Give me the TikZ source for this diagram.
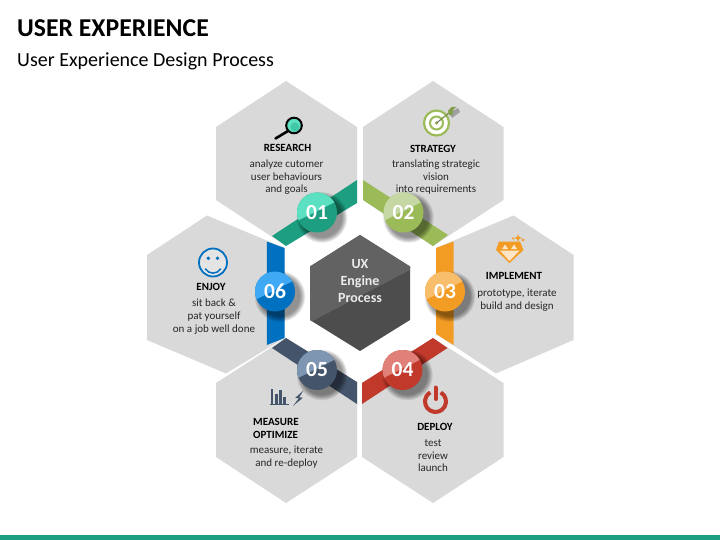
\documentclass[tikz,border=0pt]{standalone}
\usepackage{fontspec}
\setmainfont{Carlito}
\definecolor{hexgray}{HTML}{D9D9D9}
\definecolor{txt}{HTML}{262626}
\definecolor{teald}{HTML}{1D9E80}\definecolor{teall}{HTML}{5CE0C2}
\definecolor{greend}{HTML}{9BBB59}\definecolor{greenl}{HTML}{C5D8A4}
\definecolor{oranged}{HTML}{F39C24}\definecolor{orangel}{HTML}{F8BE6C}
\definecolor{redd}{HTML}{C0392B}\definecolor{redl}{HTML}{E08078}
\definecolor{slated}{HTML}{44546A}\definecolor{slatel}{HTML}{7F96B2}
\definecolor{blued}{HTML}{0070C0}\definecolor{bluel}{HTML}{3FA9F5}
\definecolor{coredark}{HTML}{4D4D4D}\definecolor{corelight}{HTML}{626262}
\definecolor{gemlight}{HTML}{FDE6C8}
\newcommand{\uxbadge}[6]{%
  \foreach \rr in {25.5,25,24.5,24,23.5,23,22.5,22,21.5,21,20.5,20}{
    \fill[black,opacity=0.045] (#1+5,#2+5) circle[radius=\rr pt];}
  \fill[#3] (#1,#2) circle[radius=20pt];
  \begin{scope}
    \clip (#1,#2) circle[radius=20pt];
    \fill[#4] (#1-21,#2+9) -- (#1+21,#2-12) -- (#1+21,#2-22) -- (#1-21,#2-22) -- cycle;
  \end{scope}
  \node[numtxt] (#6) at (#1,#2) {#5};
}
\tikzset{
  x=1pt,y=-1pt,
  hexa/.style={fill=hexgray,draw=none},
  head/.style={font=\fontsize{11}{13}\selectfont\bfseries,text=black,inner sep=0pt,anchor=base,yshift=-4.8pt},
  body/.style={font=\fontsize{11}{13}\selectfont,text=txt,inner sep=0pt,anchor=base,yshift=-4.2pt},
  numtxt/.style={font=\fontsize{21.5}{24}\selectfont\bfseries,text=white,inner sep=0pt},
  coretxt/.style={font=\fontsize{14}{16}\selectfont\bfseries,text=white!92!black,inner sep=0pt,anchor=base},
}
\begin{document}
\begin{tikzpicture}
\useasboundingbox (0,0) rectangle (720,540);
\fill[white] (0,0) rectangle (720,540);
% title
\node[anchor=base west,inner sep=0pt,font=\fontsize{25.7}{30}\selectfont\bfseries,text=black] (title) at (17,37) {USER EXPERIENCE};
\node[anchor=base west,inner sep=0pt,font=\fontsize{20}{24}\selectfont,text=black] (subtitle) at (17,66.5) {User Experience Design Process};
% bottom bar
\fill[teald] (0,534.5) rectangle (720,540);
% hexagons
\fill[hexa] (286,81) -- (357,127) -- (357,200) -- (286,246) -- (216,200) -- (216,127) -- cycle;
\fill[hexa] (433,81) -- (503.5,127) -- (503.5,200) -- (433,246) -- (363,200) -- (363,127) -- cycle;
\fill[hexa] (513.5,215.5) -- (573.5,255) -- (573.5,340) -- (496,373.5) -- (436,334) -- (436,248) -- cycle;
\fill[hexa] (207,215.5) -- (284.5,248) -- (284.5,338) -- (226,373.5) -- (147,340) -- (147,255) -- cycle;
\fill[hexa] (286,338) -- (357,382) -- (357,457) -- (286,503) -- (216,457) -- (216,383) -- cycle;
\fill[hexa] (433,338) -- (503.5,383) -- (503.5,457) -- (433,503) -- (362,457) -- (362,383) -- cycle;
% bands
\fill[teald] (357,180) -- (357,203) -- (286,246) -- (272,236) -- cycle;
\fill[greend] (363,180) -- (448,235) -- (433,246) -- (363,200) -- cycle;
\fill[oranged] (453.5,241.5) -- (453.5,345) -- (436,334) -- (436,248) -- cycle;
\fill[redd] (362,383) -- (433,338) -- (447.5,348) -- (362,404) -- cycle;
\fill[slated] (272,348) -- (286,338) -- (357,382) -- (357,404) -- cycle;
\fill[blued] (266.8,241.5) -- (284.5,248) -- (284.5,338) -- (266.8,345) -- cycle;
% centre hexagon
\fill[coredark] (360,235) -- (410,266.5) -- (410,320) -- (360,351) -- (310,320) -- (310,266.5) -- cycle;
\fill[corelight] (360,235) -- (410,266.5) -- (410,270) -- (312,321.3) -- (310,320) -- (310,266.5) -- cycle;
\node[coretxt] (ux) at (360,268.3) {UX};
\node[coretxt] (engine) at (360,285.5) {Engine};
\node[coretxt] (process) at (360,302) {Process};
% badges
\uxbadge{317}{212.5}{teald}{teall}{01}{b1}
\uxbadge{403.5}{212.5}{greend}{greenl}{02}{b2}
\uxbadge{445}{291.5}{oranged}{orangel}{03}{b3}
\uxbadge{402.5}{370}{redd}{redl}{04}{b4}
\uxbadge{317}{370}{slated}{slatel}{05}{b5}
\uxbadge{275}{291.5}{blued}{bluel}{06}{b6}
% research
\draw[black,line width=2.6pt,line cap=round] (288,131) -- (275.5,138.5);
\fill[teall] (294,125.5) circle[radius=7.5pt];
\fill[teall!60!teald] (295,127) circle[radius=4.5pt];
\draw[black,line width=2pt] (294,125.5) circle[radius=7.8pt];
\node[head] (h1) at (287.5,147) {RESEARCH};
\node[body] (t1a) at (286.5,163) {analyze cutomer};
\node[body] (t1b) at (286.5,176) {user behaviours};
\node[body] (t1c) at (286.5,188) {and goals};
% strategy
\fill[gray!75] (449,113) -- (458,108) -- (460,112) -- (452,118) -- cycle;
\fill[white] (436.5,123) circle[radius=13pt];
\draw[greend,line width=2.2pt] (436.5,123) circle[radius=12.5pt];
\draw[greend,line width=2pt] (436.5,123) circle[radius=6.5pt];
\fill[greend] (436.5,123) circle[radius=1.8pt];
\draw[gray!85!black,line width=1pt] (436.5,123) -- (449,113);
\draw[greend!85!black,line width=1pt] (440,120) -- (450,112);
\fill[greend!85!black] (448,110.5) -- (451.5,107) -- (456,107) -- (453,110) -- (453,114) -- (449.5,115.5) -- cycle;
\node[head] (h2) at (433,148) {STRATEGY};
\node[body] (t2a) at (436,163) {translating strategic};
\node[body] (t2b) at (436,176) {vision};
\node[body] (t2c) at (436,188) {into requirements};
% implement
\fill[oranged] (499,241.5) -- (520,241.5) -- (523.5,250) -- (509.5,263) -- (496,250) -- cycle;
\fill[gemlight] (500,250.5) -- (519.5,250.5) -- (509.5,261) -- cycle;
\fill[gemlight] (502,249) -- (505,244.5) -- (508,249) -- cycle;
\fill[gemlight] (511,249) -- (514,244.5) -- (517,249) -- cycle;
\fill[oranged] (518,234) -- (519,237) -- (522,238) -- (519,239) -- (518,242) -- (517,239) -- (514,238) -- (517,237) -- cycle;
\fill[oranged] (523,238) -- (523.6,239.4) -- (525,240) -- (523.6,240.6) -- (523,242) -- (522.4,240.6) -- (521,240) -- (522.4,239.4) -- cycle;
\fill[oranged] (513,237) -- (513.5,238) -- (514.5,238.5) -- (513.5,239) -- (513,240) -- (512.5,239) -- (511.5,238.5) -- (512.5,238) -- cycle;
\node[head] (h3) at (514,275) {IMPLEMENT};
\node[body] (t3a) at (517,292) {prototype, iterate};
\node[body] (t3b) at (517,305) {build and design};
% deploy
\draw[redd,line width=4pt] (440.75,392.4) arc[start angle=60,end angle=-240,radius=10.5pt];
\draw[redd,line width=4pt,line cap=round] (435.5,387.5) -- (435.5,399);
\node[head] (h4) at (435,426) {DEPLOY};
\node[body] (t4a) at (433,442) {test};
\node[body] (t4b) at (433,455) {review};
\node[body] (t4c) at (433,467) {launch};
% measure
\fill[slated] (270.5,389) rectangle (273,404);
\fill[slated] (275,393.5) rectangle (277.8,404);
\fill[slated] (279,390) rectangle (281.8,404);
\fill[slated] (283,396.5) rectangle (286,404);
\draw[slated,line width=0.9pt] (270,404.7) -- (288.5,404.7);
\fill[slated] (303.5,390.5) -- (295.3,397.8) -- (298.8,398.3) -- (293,406) -- (302.8,397.8) -- (299.2,397.2) -- cycle;
\node[head,anchor=base west] (h5a) at (253,420.5) {MEASURE};
\node[head,anchor=base west] (h5b) at (253,433.5) {OPTIMIZE};
\node[body] (t5a) at (286.5,449.5) {measure, iterate};
\node[body] (t5b) at (286.5,462) {and re-deploy};
% enjoy
\fill[hexgray!70!white] (213,262.5) circle[radius=14pt];
\draw[blued,line width=1.8pt] (213,262.5) circle[radius=14pt];
\fill[blued] (208.3,258.3) circle[radius=1.9pt];
\fill[blued] (217.5,258.3) circle[radius=1.9pt];
\draw[blued,line width=1.5pt,line cap=round] (205.5,269) .. controls (209,274.5) and (217,274.5) .. (220.5,269);
\node[head] (h6) at (211,285.5) {ENJOY};
\node[body] (t6a) at (214,302.5) {sit back \&};
\node[body] (t6b) at (214,315.5) {pat yourself};
\node[body] (t6c) at (214,328) {on a job well done};
\end{tikzpicture}
\end{document}
